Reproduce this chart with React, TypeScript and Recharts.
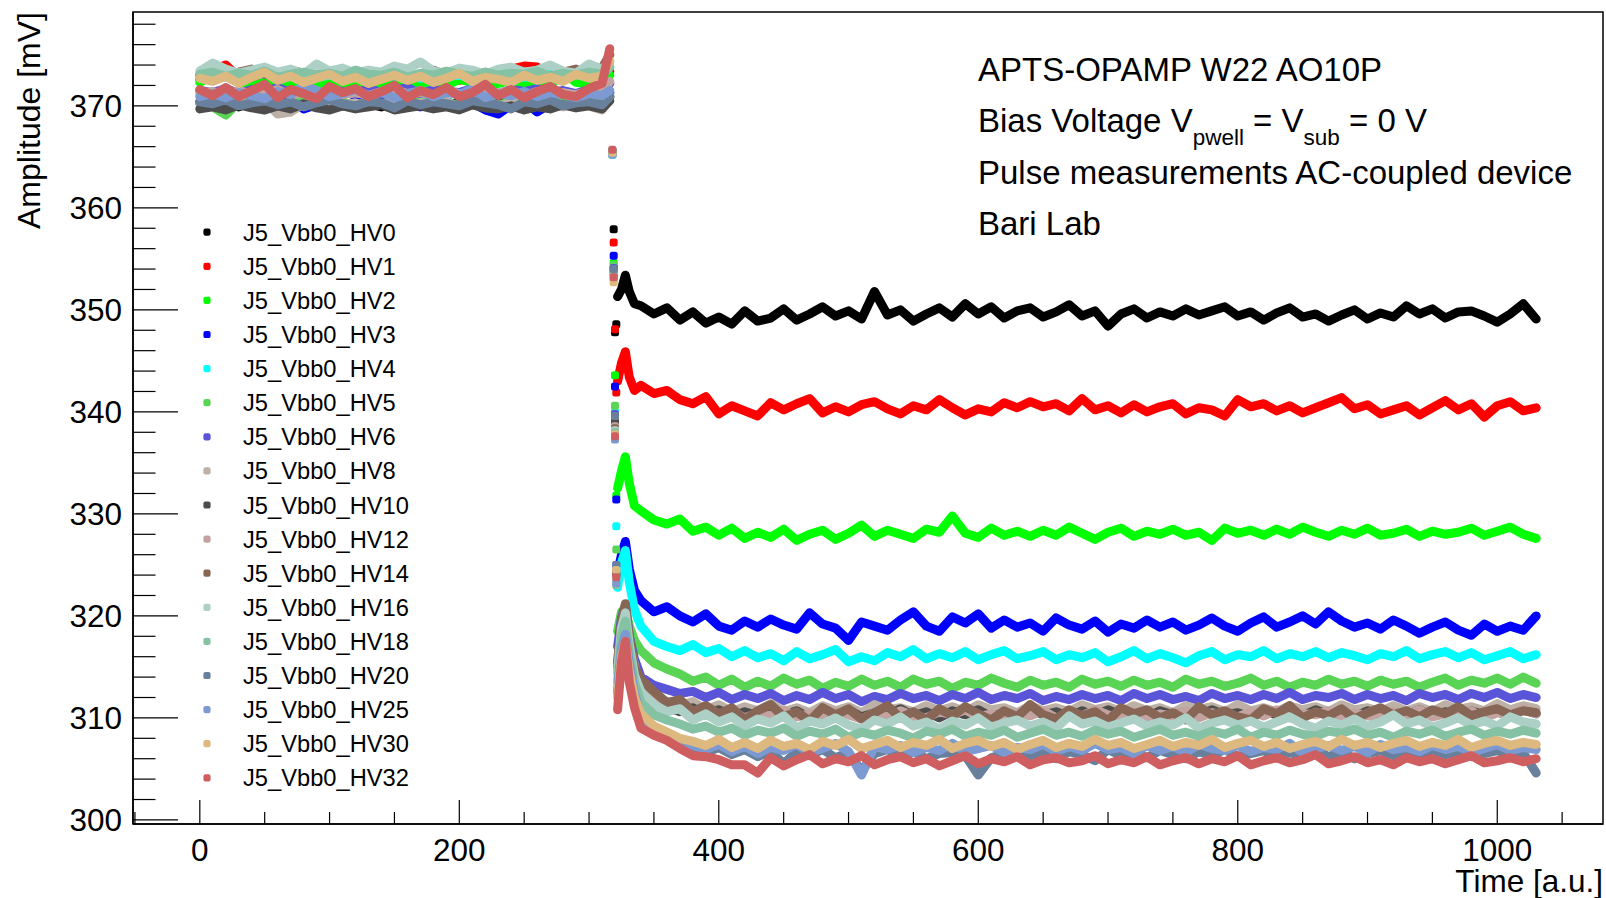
import React from 'react';
import { ComposedChart, Line, XAxis, YAxis, ReferenceArea } from 'recharts';

const FONT = '"Liberation Sans", Arial, Helvetica, sans-serif';

// ---- time grid (a.u.) ----
const TIME_PRE = [0, 10, 20, 30, 40, 50, 60, 70, 80, 90, 100, 110, 120, 130, 140, 150, 160, 170, 180, 190, 200, 210, 220, 230, 240, 250, 260, 270, 280, 290, 300, 310, 316];
const TIME_DIP = [318, 319, 320, 321];
const TIME_TR = [322, 325, 328, 331, 335];
const TIME_POST = [340, 350, 360, 370, 380, 390, 400, 410, 420, 430, 440, 450, 460, 470, 480, 490, 500, 510, 520, 530, 540, 550, 560, 570, 580, 590, 600, 610, 620, 630, 640, 650, 660, 670, 680, 690, 700, 710, 720, 730, 740, 750, 760, 770, 780, 790, 800, 810, 820, 830, 840, 850, 860, 870, 880, 890, 900, 910, 920, 930, 940, 950, 960, 970, 980, 990, 1000, 1010, 1020, 1030];

const X_TICKS = [-50, 0, 50, 100, 150, 200, 250, 300, 350, 400, 450, 500, 550, 600, 650, 700, 750, 800, 850, 900, 950, 1000, 1050];
const Y_TICKS = [300, 302, 304, 306, 308, 310, 312, 314, 316, 318, 320, 322, 324, 326, 328, 330, 332, 334, 336, 338, 340, 342, 344, 346, 348, 350, 352, 354, 356, 358, 360, 362, 364, 366, 368, 370, 372, 374, 376, 378];

// ---- HV0 ----
const PRE_HV0 = [370.3, 370.0, 370.5, 369.9, 370.4, 370.2, 370.6, 369.8, 370.3, 370.1,
  370.5, 370.0, 370.4, 370.2, 369.9, 370.5, 370.1, 370.3, 370.6, 370.0,
  370.4, 370.2, 369.8, 370.3, 370.5, 370.1, 370.4, 369.9, 370.3, 370.6,
  370.2, 370.4, 370.9];
const DIP_HV0 = [365.6, 357.9, 347.8, 348.6];
const TR_HV0 = [351.3, 352.0, 353.4, 351.8, 350.6];
const POST_HV0 = [350.4, 349.6, 350.2, 349.0, 349.8, 348.7, 349.3, 348.6, 349.9, 348.9,
  349.2, 350.1, 349.0, 349.6, 350.3, 349.4, 349.9, 349.1, 351.8, 349.5,
  350.0, 348.9, 349.6, 350.2, 349.3, 350.6, 349.6, 350.3, 349.2, 349.9,
  350.2, 349.3, 349.8, 350.5, 349.4, 349.9, 348.4, 349.6, 350.1, 349.2,
  349.8, 349.4, 350.1, 349.5, 349.9, 350.3, 349.4, 349.8, 349.0, 349.7,
  350.2, 349.3, 349.6, 348.9, 349.5, 350.0, 349.1, 349.7, 349.3, 350.4,
  349.6, 350.1, 349.2, 349.8, 349.9, 349.4, 348.8, 349.6, 350.6, 349.1];

// ---- HV1 ----
const PRE_HV1 = [372.6, 373.5, 374.0, 372.8, 372.3, 372.7, 372.5, 372.2, 372.8, 372.4,
  372.6, 372.3, 372.9, 372.5, 372.2, 372.7, 372.4, 372.6, 372.3, 372.8,
  372.5, 372.7, 372.4, 372.9, 373.6, 373.9, 373.8, 372.4, 372.8, 372.6,
  372.5, 372.7, 373.4];
const DIP_HV1 = [365.4, 356.6, 348.1, 341.9];
const TR_HV1 = [343.0, 344.8, 345.9, 343.4, 342.1];
const POST_HV1 = [342.6, 341.8, 342.1, 341.2, 340.8, 341.5, 339.8, 340.6, 340.1, 339.6,
  340.9, 340.2, 340.8, 341.3, 339.9, 340.5, 340.0, 340.7, 341.0, 340.3,
  339.8, 340.6, 340.2, 341.2, 340.4, 339.7, 340.3, 340.0, 340.9, 340.4,
  341.0, 340.5, 340.8, 340.1, 341.3, 340.2, 340.6, 339.9, 340.7, 340.0,
  340.5, 340.8, 339.8, 340.4, 340.2, 339.6, 341.2, 340.5, 340.8, 340.1,
  340.6, 339.9, 340.4, 340.9, 341.4, 340.3, 340.7, 339.8, 340.2, 340.6,
  339.7, 340.4, 341.1, 340.2, 340.8, 339.5, 340.6, 341.0, 340.1, 340.4];

// ---- HV2 ----
const PRE_HV2 = [372.3, 373.0, 373.3, 372.4, 371.9, 372.3, 372.0, 372.5, 372.2, 371.8,
  372.4, 372.1, 372.6, 372.0, 372.3, 371.9, 372.5, 372.2, 372.4, 372.0,
  372.6, 372.3, 371.9, 372.2, 372.5, 372.1, 372.4, 372.0, 373.3, 372.3,
  372.1, 372.4, 373.0];
const DIP_HV2 = [365.6, 354.6, 343.6, 331.8];
const TR_HV2 = [332.5, 334.2, 335.6, 333.0, 330.8];
const POST_HV2 = [330.3, 329.4, 329.0, 329.5, 328.3, 328.7, 327.9, 328.6, 327.6, 328.2,
  327.7, 328.5, 327.4, 328.0, 328.4, 327.5, 328.1, 328.9, 327.8, 328.4,
  328.0, 327.6, 328.5, 328.2, 329.8, 328.1, 327.7, 328.6, 327.9, 328.3,
  327.8, 328.4, 327.9, 328.7, 328.1, 327.5, 328.2, 328.6, 327.8, 328.3,
  328.0, 328.5, 327.9, 328.2, 327.4, 328.6, 328.1, 328.4, 327.9, 328.5,
  328.0, 328.7, 328.2, 327.8, 328.4, 328.0, 328.6, 327.9, 328.1, 328.5,
  327.8, 328.3, 328.0, 328.2, 328.6, 327.9, 328.3, 328.7, 328.0, 327.6];

// ---- HV3 ----
const PRE_HV3 = [370.4, 370.1, 369.6, 370.3, 370.0, 370.5, 370.2, 370.4, 369.7, 370.1,
  370.3, 370.0, 370.4, 370.2, 370.5, 370.1, 370.3, 369.9, 370.2, 370.4,
  370.0, 370.3, 369.6, 369.2, 370.1, 370.4, 369.4, 370.2, 370.3, 370.0,
  370.5, 370.6, 371.3];
const DIP_HV3 = [365.3, 355.3, 342.5, 331.4];
const TR_HV3 = [324.2, 326.0, 327.3, 324.6, 322.5];
const POST_HV3 = [321.5, 320.4, 320.9, 320.0, 319.4, 320.2, 319.0, 318.6, 319.5, 318.9,
  319.7, 319.1, 318.7, 320.3, 319.2, 318.8, 317.6, 319.4, 319.0, 318.6,
  319.6, 320.4, 319.0, 318.5, 319.9, 319.3, 320.2, 318.8, 319.6, 318.9,
  319.3, 318.5, 319.8, 319.1, 318.7, 319.5, 318.4, 319.2, 318.8, 319.6,
  318.9, 319.4, 318.6, 319.1, 319.8, 319.0, 318.5, 319.3, 319.9, 318.9,
  319.4, 320.0, 319.2, 320.4, 319.5, 318.9, 319.3, 318.7, 319.6, 319.0,
  318.3, 318.9, 319.4, 318.6, 318.1, 319.2, 318.5, 319.0, 318.6, 320.0];

// ---- HV4 ----
const PRE_HV4 = [373.0, 373.2, 372.8, 373.1, 372.9, 373.2, 372.7, 373.0, 373.1, 372.8,
  373.0, 372.9, 373.2, 372.8, 373.0, 372.9, 373.1, 372.7, 373.3, 372.9,
  373.0, 372.8, 373.2, 372.9, 373.1, 372.8, 373.0, 373.2, 372.9, 373.1,
  372.8, 373.0, 373.8];
const DIP_HV4 = [365.2, 354.0, 340.0, 328.8];
const TR_HV4 = [322.8, 325.2, 326.4, 323.3, 320.6];
const POST_HV4 = [319.0, 317.5, 317.0, 316.6, 317.2, 316.4, 316.8, 316.0, 316.6, 315.9,
  316.3, 315.6, 316.5, 315.8, 316.2, 316.7, 315.5, 316.0, 315.6, 316.4,
  316.0, 316.7, 315.8, 316.3, 315.9, 316.5, 315.7, 316.2, 316.6, 315.8,
  316.1, 316.5, 315.7, 316.2, 315.9, 316.4, 315.5, 316.0, 316.6, 315.8,
  316.3, 315.9, 315.4, 316.1, 316.5, 315.7, 316.2, 316.0, 316.6, 315.8,
  316.3, 316.0, 316.5, 315.9, 316.4, 316.1, 315.7, 316.3, 316.0, 316.6,
  315.8, 316.2, 316.5, 315.9, 316.4, 315.7, 316.1, 316.5, 315.8, 316.2];

// ---- HV5 ----
const PRE_HV5 = [370.3, 369.9, 369.1, 370.4, 370.1, 370.5, 370.2, 370.0, 370.6, 370.3,
  370.1, 370.4, 370.0, 370.5, 370.2, 369.8, 370.3, 370.6, 370.1, 370.4,
  370.0, 370.3, 370.5, 370.1, 370.4, 370.2, 370.0, 370.5, 370.3, 370.1,
  370.4, 370.2, 371.0];
const DIP_HV5 = [365.5, 354.4, 340.6, 326.5];
const TR_HV5 = [318.5, 320.4, 320.8, 319.0, 317.6];
const POST_HV5 = [316.6, 315.4, 314.8, 314.3, 313.6, 314.0, 313.2, 313.8, 313.0, 313.6,
  313.1, 313.9, 313.3, 313.7, 312.9, 313.5, 313.1, 313.8, 313.2, 313.6,
  313.0, 313.8, 313.3, 313.6, 312.9, 313.5, 313.2, 313.9, 313.4, 313.0,
  313.7, 313.2, 313.5, 313.0, 313.8, 313.3, 313.6, 313.1, 313.7, 313.2,
  313.5, 313.0, 313.8, 313.3, 313.6, 313.1, 313.4, 313.9, 313.2, 313.6,
  313.0, 313.5, 313.2, 313.8, 313.3, 313.6, 313.1, 313.7, 313.3, 313.6,
  313.0, 313.5, 313.9, 313.2, 313.7, 313.4, 313.9, 313.3, 314.0, 313.4];

// ---- HV6 ----
const PRE_HV6 = [371.5, 371.3, 371.7, 371.2, 371.6, 371.4, 371.8, 371.3, 371.5, 371.1,
  371.6, 371.4, 371.2, 371.7, 371.3, 371.5, 371.8, 371.2, 371.6, 371.4,
  371.3, 371.7, 371.5, 371.2, 371.6, 371.4, 371.7, 371.3, 371.5, 371.2,
  371.6, 371.4, 372.2];
const DIP_HV6 = [365.5, 354.1, 339.8, 325.0];
const TR_HV6 = [317.0, 319.8, 321.0, 318.0, 315.8];
const POST_HV6 = [314.0, 313.2, 312.8, 312.4, 312.6, 312.0, 312.5, 311.8, 312.3, 311.9,
  312.4, 311.7, 312.2, 311.8, 312.5, 311.9, 312.3, 311.6, 312.1, 311.8,
  312.4, 311.9, 312.2, 311.7, 312.3, 311.9, 312.5, 311.8, 312.2, 311.9,
  312.4, 311.7, 312.1, 311.8, 312.3, 311.9, 312.2, 311.7, 312.4, 311.9,
  312.3, 311.8, 312.1, 311.7, 312.4, 311.9, 312.2, 311.8, 312.3, 311.9,
  312.5, 311.8, 312.2, 312.0, 312.4, 311.8, 312.3, 311.9, 312.2, 311.7,
  312.4, 312.0, 312.3, 311.8, 312.4, 312.0, 312.5, 311.9, 312.3, 312.0];

// ---- HV8 ----
const PRE_HV8 = [370.2, 370.4, 369.9, 370.3, 370.1, 370.5, 369.2, 369.4, 370.2, 370.0,
  370.4, 370.1, 370.3, 369.9, 370.2, 370.5, 370.0, 370.3, 370.1, 370.4,
  369.8, 370.2, 370.5, 370.0, 370.3, 370.1, 370.4, 370.2, 369.9, 370.3,
  370.0, 369.6, 370.8];
const DIP_HV8 = [365.3, 353.8, 339.3, 324.5];
const TR_HV8 = [315.5, 318.8, 320.0, 317.5, 315.2];
const POST_HV8 = [312.8, 312.0, 311.5, 311.2, 311.6, 310.8, 311.3, 310.6, 311.1, 310.7,
  311.4, 310.6, 311.0, 310.5, 311.2, 310.7, 311.1, 310.5, 311.3, 310.8,
  311.0, 310.6, 311.2, 310.7, 311.1, 310.6, 311.3, 310.8, 311.0, 310.5,
  311.2, 310.7, 311.0, 310.6, 311.3, 310.8, 311.1, 310.6, 311.2, 310.7,
  311.0, 310.5, 311.2, 310.8, 311.1, 310.6, 311.3, 310.7, 311.0, 310.6,
  311.2, 310.8, 311.1, 310.6, 311.3, 310.8, 311.0, 310.6, 311.2, 310.7,
  311.1, 310.6, 311.3, 310.8, 311.1, 310.7, 311.4, 310.8, 311.2, 310.9];

// ---- HV10 ----
const PRE_HV10 = [369.7, 369.9, 369.6, 370.1, 369.8, 369.6, 370.0, 369.7, 370.2, 369.8,
  369.6, 370.0, 369.7, 369.9, 370.1, 369.6, 369.8, 370.0, 369.7, 369.9,
  369.6, 370.1, 369.8, 369.7, 370.0, 369.6, 369.9, 369.7, 370.1, 369.8,
  370.0, 369.7, 370.5];
const DIP_HV10 = [365.4, 354.0, 339.0, 324.0];
const TR_HV10 = [315.0, 318.2, 319.6, 317.0, 314.6];
const POST_HV10 = [312.3, 311.5, 311.0, 310.6, 311.0, 310.3, 310.8, 310.1, 310.6, 310.2,
  310.9, 310.3, 310.7, 310.0, 310.6, 310.2, 310.8, 310.1, 310.5, 310.3,
  310.9, 310.2, 310.6, 310.0, 310.7, 310.3, 310.8, 310.1, 310.5, 310.2,
  310.9, 310.3, 310.6, 310.1, 310.7, 310.2, 310.8, 310.3, 310.5, 310.0,
  310.7, 310.3, 310.6, 310.2, 310.8, 310.3, 310.5, 310.1, 310.7, 310.3,
  310.6, 310.2, 310.8, 310.3, 310.6, 310.1, 310.7, 310.2, 310.5, 310.3,
  310.8, 310.2, 310.6, 310.1, 310.7, 310.3, 310.6, 310.2, 310.8, 310.4];

// ---- HV12 ----
const PRE_HV12 = [371.2, 371.4, 371.0, 371.5, 371.1, 371.3, 371.6, 371.0, 371.4, 371.2,
  371.5, 371.1, 371.3, 371.0, 371.4, 371.6, 371.2, 371.3, 371.0, 371.5,
  371.2, 371.4, 371.1, 371.3, 371.5, 371.0, 371.4, 371.2, 371.3, 371.1,
  371.5, 371.3, 372.4];
const DIP_HV12 = [365.3, 353.6, 338.6, 323.8];
const TR_HV12 = [314.5, 318.5, 320.0, 317.0, 314.5];
const POST_HV12 = [313.2, 312.1, 311.6, 311.0, 310.6, 310.9, 310.3, 310.7, 310.0, 310.5,
  310.2, 310.8, 310.1, 310.4, 310.0, 310.6, 310.3, 309.9, 310.5, 310.1,
  310.7, 310.2, 310.0, 310.6, 310.3, 310.8, 310.1, 310.4, 309.9, 310.5,
  310.2, 310.7, 310.0, 310.4, 310.2, 310.8, 310.3, 310.1, 310.6, 309.9,
  310.4, 310.2, 310.7, 310.0, 310.5, 310.3, 310.1, 310.6, 310.2, 310.8,
  310.0, 310.4, 310.3, 310.7, 310.1, 310.5, 310.2, 310.0, 310.6, 310.3,
  310.8, 310.1, 310.4, 310.2, 310.7, 310.0, 310.5, 310.3, 310.9, 310.4];

// ---- HV14 ----
const PRE_HV14 = [373.0, 373.2, 372.9, 373.3, 373.6, 373.1, 372.9, 373.5, 373.2, 373.0,
  373.3, 372.9, 373.1, 373.4, 373.0, 373.2, 372.8, 373.1, 373.5, 373.0,
  373.2, 372.9, 373.3, 373.1, 373.0, 373.4, 373.2, 372.9, 373.3, 373.6,
  373.1, 373.7, 375.0];
const DIP_HV14 = [365.5, 353.5, 338.4, 324.2];
const TR_HV14 = [315.5, 319.5, 321.2, 318.0, 315.0];
const POST_HV14 = [313.8, 312.6, 311.5, 311.8, 310.6, 311.2, 310.4, 311.0, 309.8, 310.7,
  311.3, 310.1, 310.6, 309.7, 311.0, 310.3, 310.9, 309.9, 310.5, 311.2,
  310.0, 310.6, 309.8, 310.9, 310.2, 311.1, 310.4, 309.8, 310.7, 310.1,
  311.3, 310.3, 309.9, 310.8, 310.2, 310.6, 309.7, 311.0, 310.4, 310.8,
  310.0, 310.5, 309.8, 311.1, 310.3, 310.7, 310.1, 309.8, 310.9, 310.4,
  311.2, 310.0, 310.6, 310.2, 310.9, 309.9, 310.5, 311.0, 310.3, 310.7,
  310.1, 310.8, 310.4, 311.1, 310.2, 310.6, 310.9, 310.3, 310.7, 310.5];

// ---- HV16 ----
const PRE_HV16 = [373.4, 374.2, 373.6, 373.2, 373.5, 373.8, 373.3, 373.6, 373.1, 374.1,
  373.4, 373.7, 373.2, 373.5, 373.3, 373.9, 373.6, 374.3, 373.4, 373.2,
  373.7, 373.5, 373.1, 373.6, 373.8, 373.3, 373.5, 374.0, 373.4, 373.2,
  374.1, 373.6, 374.3];
const DIP_HV16 = [365.6, 353.4, 338.2, 323.5];
const TR_HV16 = [314.5, 318.8, 320.3, 317.2, 314.2];
const POST_HV16 = [312.5, 311.3, 310.6, 310.9, 309.8, 310.4, 309.6, 310.1, 309.2, 309.9,
  309.5, 310.2, 309.0, 309.7, 309.4, 310.0, 309.3, 308.9, 309.8, 309.4,
  310.1, 309.2, 309.6, 308.9, 309.7, 309.3, 310.0, 309.1, 309.5, 309.8,
  309.2, 309.6, 309.0, 310.2, 309.4, 309.7, 309.1, 309.5, 309.9, 309.2,
  309.6, 309.3, 310.0, 309.0, 309.5, 309.8, 309.3, 309.7, 309.1, 309.6,
  310.1, 309.4, 309.0, 309.7, 309.3, 309.9, 309.2, 309.6, 310.3, 309.4,
  309.8, 309.1, 309.5, 310.0, 309.3, 309.7, 309.2, 310.1, 309.6, 309.4];

// ---- HV18 ----
const PRE_HV18 = [373.1, 373.3, 372.9, 373.2, 373.0, 373.4, 372.8, 373.1, 373.3, 373.0,
  373.2, 372.9, 373.5, 373.1, 373.0, 373.3, 372.8, 373.2, 373.0, 373.4,
  373.1, 372.9, 373.3, 373.0, 373.2, 373.1, 373.4, 372.9, 373.2, 373.0,
  373.3, 373.1, 373.8];
const DIP_HV18 = [365.4, 353.7, 338.0, 323.0];
const TR_HV18 = [313.5, 318.0, 319.5, 316.5, 313.5];
const POST_HV18 = [311.5, 310.3, 309.8, 309.4, 308.9, 309.2, 308.6, 309.0, 308.3, 308.8,
  308.5, 309.0, 308.2, 308.7, 308.4, 308.9, 308.1, 308.6, 308.3, 308.8,
  308.5, 308.0, 308.7, 308.4, 308.9, 308.2, 308.6, 308.3, 308.8, 308.1,
  308.5, 308.9, 308.3, 308.6, 308.2, 308.8, 308.4, 308.7, 308.1, 308.5,
  308.9, 308.3, 308.6, 308.2, 308.7, 308.4, 308.9, 308.1, 308.6, 308.3,
  308.8, 308.4, 308.2, 308.7, 308.5, 308.9, 308.3, 308.6, 308.1, 308.7,
  308.4, 308.8, 308.2, 308.6, 308.9, 308.3, 308.7, 308.4, 308.8, 308.5];

// ---- HV20 ----
const PRE_HV20 = [370.4, 370.2, 370.6, 370.0, 370.3, 370.5, 370.1, 370.4, 369.9, 370.3,
  370.6, 370.2, 370.0, 370.4, 370.3, 369.8, 370.5, 370.1, 370.4, 370.2,
  370.0, 370.5, 370.3, 370.1, 369.7, 370.4, 370.2, 370.6, 370.0, 370.3,
  370.4, 370.1, 370.9];
const DIP_HV20 = [365.5, 354.0, 339.6, 325.0];
const TR_HV20 = [312.5, 316.5, 318.0, 315.0, 312.0];
const POST_HV20 = [310.0, 308.8, 308.0, 307.4, 307.0, 306.6, 307.1, 306.4, 306.9, 306.2,
  306.8, 305.5, 306.7, 306.3, 306.9, 306.1, 306.6, 304.8, 306.5, 306.9,
  306.2, 306.7, 306.0, 306.5, 306.6, 306.3, 304.4, 306.1, 306.5, 306.8,
  306.2, 306.6, 306.0, 306.7, 306.4, 305.8, 306.9, 306.3, 306.6, 306.1,
  306.8, 306.4, 306.0, 306.7, 306.3, 306.9, 306.2, 306.5, 306.8, 306.1,
  306.6, 306.3, 306.9, 306.2, 306.7, 306.0, 306.5, 306.8, 306.3, 306.6,
  306.1, 306.9, 306.4, 306.7, 306.2, 306.5, 306.8, 306.3, 306.6, 304.6];

// ---- HV25 ----
const PRE_HV25 = [370.9, 371.2, 370.8, 371.3, 371.0, 370.7, 371.4, 371.1, 372.0, 371.5,
  370.9, 371.2, 371.6, 371.0, 371.3, 370.8, 371.2, 371.5, 370.9, 371.3,
  371.1, 371.7, 370.8, 371.2, 371.0, 371.4, 370.9, 371.3, 371.1, 370.8,
  371.2, 371.0, 371.5];
const DIP_HV25 = [365.2, 353.0, 337.3, 323.2];
const TR_HV25 = [312.5, 316.8, 318.2, 315.5, 312.5];
const POST_HV25 = [310.2, 309.0, 308.3, 307.6, 307.3, 306.9, 307.4, 306.7, 307.2, 306.5,
  307.1, 306.8, 307.4, 306.6, 307.0, 307.5, 306.7, 304.4, 307.2, 306.9,
  307.3, 306.6, 307.1, 306.8, 307.5, 306.7, 307.0, 307.3, 306.6, 307.1,
  306.9, 307.4, 306.7, 307.2, 306.8, 307.5, 306.9, 307.1, 306.5, 307.3,
  306.8, 307.2, 306.6, 307.4, 307.0, 306.8, 307.3, 306.7, 307.1, 306.9,
  307.5, 306.6, 307.0, 307.3, 306.8, 307.2, 306.6, 307.4, 306.9, 307.1,
  306.7, 307.3, 306.9, 307.2, 306.6, 307.0, 307.4, 306.8, 307.1, 306.9];

// ---- HV30 ----
const PRE_HV30 = [372.7, 372.4, 372.9, 372.2, 372.8, 373.3, 372.5, 372.9, 372.3, 372.7,
  373.1, 372.4, 372.8, 372.2, 372.6, 373.0, 372.5, 372.9, 372.3, 372.7,
  373.2, 372.4, 372.8, 372.6, 372.3, 373.0, 372.5, 372.8, 372.4, 373.1,
  372.7, 372.9, 374.4];
const DIP_HV30 = [365.4, 352.7, 337.8, 324.5];
const TR_HV30 = [312.0, 316.0, 317.5, 314.5, 312.0];
const POST_HV30 = [310.4, 309.2, 308.6, 308.0, 307.7, 307.3, 307.9, 307.1, 307.6, 307.0,
  307.8, 307.2, 307.5, 306.9, 307.7, 307.3, 307.9, 307.0, 307.4, 307.8,
  307.1, 307.6, 307.3, 307.9, 307.0, 307.5, 307.8, 307.2, 307.6, 306.9,
  307.4, 307.8, 307.1, 307.5, 307.2, 307.9, 307.3, 307.6, 307.0, 307.4,
  307.8, 307.2, 307.6, 307.3, 307.9, 307.1, 307.5, 307.8, 307.2, 307.6,
  307.0, 307.4, 307.7, 307.2, 307.9, 307.3, 307.6, 307.1, 307.5, 307.8,
  307.2, 307.6, 307.3, 307.9, 307.1, 307.5, 307.8, 307.3, 307.6, 307.4];

// ---- HV32 ----
const PRE_HV32 = [371.6, 371.0, 371.8, 370.9, 371.5, 372.1, 370.8, 371.6, 371.2, 370.7,
  371.9, 371.3, 371.7, 370.9, 371.4, 372.0, 370.8, 371.5, 371.1, 371.8,
  370.9, 371.3, 372.1, 371.0, 371.6, 370.8, 371.4, 371.9, 371.1, 370.9,
  371.7, 372.2, 375.6];
const DIP_HV32 = [365.7, 353.2, 337.6, 323.8];
const TR_HV32 = [310.8, 315.5, 317.5, 313.5, 311.0];
const POST_HV32 = [309.0, 308.3, 307.8, 307.0, 306.3, 306.2, 305.9, 305.4, 305.4, 304.6,
  306.1, 305.3, 305.9, 306.4, 305.5, 306.0, 305.7, 306.3, 305.4, 305.9,
  306.2, 305.6, 306.0, 305.3, 305.8, 306.3, 305.5, 306.0, 305.7, 306.2,
  305.4, 305.9, 306.1, 305.6, 305.8, 306.3, 305.5, 305.9, 305.6, 306.2,
  305.4, 305.8, 306.1, 305.5, 306.0, 305.7, 306.3, 305.4, 305.8, 306.1,
  305.6, 305.9, 306.4, 305.5, 305.8, 306.2, 305.6, 305.9, 305.4, 306.1,
  305.7, 306.0, 305.5, 305.9, 306.3, 305.6, 305.8, 306.1, 305.7, 306.0];

const SERIES = [
  { name: 'J5_Vbb0_HV0', color: '#000000', pre: PRE_HV0, dip: DIP_HV0, tr: TR_HV0, post: POST_HV0 },
  { name: 'J5_Vbb0_HV1', color: '#ff0000', pre: PRE_HV1, dip: DIP_HV1, tr: TR_HV1, post: POST_HV1 },
  { name: 'J5_Vbb0_HV2', color: '#00ff00', pre: PRE_HV2, dip: DIP_HV2, tr: TR_HV2, post: POST_HV2 },
  { name: 'J5_Vbb0_HV3', color: '#0000ff', pre: PRE_HV3, dip: DIP_HV3, tr: TR_HV3, post: POST_HV3 },
  { name: 'J5_Vbb0_HV4', color: '#00ffff', pre: PRE_HV4, dip: DIP_HV4, tr: TR_HV4, post: POST_HV4 },
  { name: 'J5_Vbb0_HV5', color: '#59d454', pre: PRE_HV5, dip: DIP_HV5, tr: TR_HV5, post: POST_HV5 },
  { name: 'J5_Vbb0_HV6', color: '#5954d8', pre: PRE_HV6, dip: DIP_HV6, tr: TR_HV6, post: POST_HV6 },
  { name: 'J5_Vbb0_HV8', color: '#bdb0a6', pre: PRE_HV8, dip: DIP_HV8, tr: TR_HV8, post: POST_HV8 },
  { name: 'J5_Vbb0_HV10', color: '#4d4d4d', pre: PRE_HV10, dip: DIP_HV10, tr: TR_HV10, post: POST_HV10 },
  { name: 'J5_Vbb0_HV12', color: '#c2a3a0', pre: PRE_HV12, dip: DIP_HV12, tr: TR_HV12, post: POST_HV12 },
  { name: 'J5_Vbb0_HV14', color: '#876656', pre: PRE_HV14, dip: DIP_HV14, tr: TR_HV14, post: POST_HV14 },
  { name: 'J5_Vbb0_HV16', color: '#acd0c6', pre: PRE_HV16, dip: DIP_HV16, tr: TR_HV16, post: POST_HV16 },
  { name: 'J5_Vbb0_HV18', color: '#85c2a3', pre: PRE_HV18, dip: DIP_HV18, tr: TR_HV18, post: POST_HV18 },
  { name: 'J5_Vbb0_HV20', color: '#68809b', pre: PRE_HV20, dip: DIP_HV20, tr: TR_HV20, post: POST_HV20 },
  { name: 'J5_Vbb0_HV25', color: '#7d99d1', pre: PRE_HV25, dip: DIP_HV25, tr: TR_HV25, post: POST_HV25 },
  { name: 'J5_Vbb0_HV30', color: '#ddb87f', pre: PRE_HV30, dip: DIP_HV30, tr: TR_HV30, post: POST_HV30 },
  { name: 'J5_Vbb0_HV32', color: '#cf5e61', pre: PRE_HV32, dip: DIP_HV32, tr: TR_HV32, post: POST_HV32 },
];

function buildRows() {
  const rows: any[] = [];
  const add = (times: number[], key: 'pre' | 'dip' | 'tr' | 'post') => {
    times.forEach((t, i) => {
      const r: any = { t };
      SERIES.forEach((s, k) => {
        const v = (s as any)[key][i];
        if (key === 'dip') {
          r['s' + k] = null;
          r['d' + k] = v === undefined ? null : v;
        } else {
          r['s' + k] = v === undefined ? null : v;
          r['d' + k] = null;
        }
      });
      rows.push(r);
    });
  };
  add(TIME_PRE, 'pre');
  add(TIME_DIP, 'dip');
  add(TIME_TR, 'tr');
  add(TIME_POST, 'post');
  return rows;
}
const ROWS = buildRows();

const YTick = (props: any) => {
  const { x, y, payload } = props;
  const v = payload.value;
  const major = Math.abs(v % 10) < 1e-6;
  return (
    <g>
      <line x1={x} x2={x + (major ? 45 : 22.5)} y1={y} y2={y} stroke="#000" strokeWidth={1.2} />
      {major && (
        <text x={x - 11} y={y} dy="0.36em" textAnchor="end" fontSize={31.5} fontFamily={FONT} fill="#000">
          {v}
        </text>
      )}
    </g>
  );
};

const XTick = (props: any) => {
  const { x, y, payload } = props;
  const v = payload.value;
  const major = Math.abs(v % 200) < 1e-6;
  return (
    <g>
      <line x1={x} x2={x} y1={y} y2={y - (major ? 24 : 12)} stroke="#000" strokeWidth={1.2} />
      {major && (
        <text x={x} y={y + 37} textAnchor="middle" fontSize={31.5} fontFamily={FONT} fill="#000">
          {v}
        </text>
      )}
    </g>
  );
};

const makeDot = (color: string) => (p: any) => {
  const k = 'dot-' + color + '-' + p.index;
  if (p.cy == null || p.cx == null || isNaN(p.cy) || p.value == null) return <g key={k} />;
  return <rect key={k} x={p.cx - 4} y={p.cy - 4} width={8} height={8} rx={2.5} fill={color} />;
};

const LEGEND_X_MARK = 207;
const LEGEND_X_TEXT = 243;
const LEGEND_Y0 = 240.7;
const LEGEND_DY = 34.1;

export default function App() {
  const lines = SERIES.flatMap((s, k) => [
    <Line
      key={'s' + k}
      type="linear"
      dataKey={'s' + k}
      stroke={s.color}
      strokeWidth={9}
      strokeLinejoin="round"
      strokeLinecap="round"
      dot={false}
      activeDot={false}
      connectNulls={false}
      isAnimationActive={false}
      legendType="none"
    />,
    <Line
      key={'d' + k}
      type="linear"
      dataKey={'d' + k}
      stroke="none"
      dot={makeDot(s.color)}
      activeDot={false}
      connectNulls={false}
      isAnimationActive={false}
      legendType="none"
    />,
  ]);

  return (
    <div style={{ position: 'absolute', left: 0, top: 0, width: 1606, height: 898, background: '#fff', overflow: 'hidden' }}>
      <ComposedChart width={1606} height={898} data={ROWS} margin={{ top: 12, right: 3, bottom: 0, left: 0 }}>
        <XAxis
          dataKey="t"
          type="number"
          domain={[-51.5, 1081.5]}
          allowDataOverflow
          ticks={X_TICKS}
          interval={0}
          height={74}
          tickSize={0}
          tickMargin={0}
          tickLine={false}
          axisLine={{ stroke: '#000', strokeWidth: 1.5 }}
          tick={(p: any) => <XTick {...p} />}
        />
        <YAxis
          type="number"
          domain={[299.6, 379.2]}
          allowDataOverflow
          ticks={Y_TICKS}
          interval={0}
          width={133}
          tickSize={0}
          tickMargin={0}
          tickLine={false}
          axisLine={{ stroke: '#000', strokeWidth: 1.5 }}
          tick={(p: any) => <YTick {...p} />}
        />
        <ReferenceArea x1={-51.5} x2={1081.5} y1={299.6} y2={379.2} fill="none" fillOpacity={0} stroke="#000" strokeWidth={1.5} ifOverflow="visible" />
        {lines}
      </ComposedChart>
      <svg width={1606} height={898} style={{ position: 'absolute', left: 0, top: 0, pointerEvents: 'none' }} fontFamily={FONT}>
        <text x={1603} y={892} textAnchor="end" fontSize={31.5} fill="#000">Time [a.u.]</text>
        <text x={40} y={12} textAnchor="end" fontSize={32} fill="#000" transform="rotate(-90 40 12)">Amplitude [mV]</text>
        <text x={978} y={81} fontSize={33} fill="#000">APTS-OPAMP W22 AO10P</text>
        <text x={978} y={132} fontSize={33} fill="#000">
          <tspan>Bias Voltage V</tspan>
          <tspan fontSize={22.5} dy={13}>pwell</tspan>
          <tspan dy={-13}> = V</tspan>
          <tspan fontSize={22.5} dy={13}>sub</tspan>
          <tspan dy={-13}> = 0 V</tspan>
        </text>
        <text x={978} y={183.5} fontSize={33} fill="#000">Pulse measurements AC-coupled device</text>
        <text x={978} y={234.5} fontSize={33} fill="#000">Bari Lab</text>
        {SERIES.map((s, i) => (
          <g key={s.name}>
            <rect x={LEGEND_X_MARK - 3.6} y={LEGEND_Y0 + i * LEGEND_DY - 8.5 - 3.6} width={7.2} height={7.2} rx={2.2} fill={s.color} />
            <text x={LEGEND_X_TEXT} y={LEGEND_Y0 + i * LEGEND_DY} fontSize={23.7} fill="#000">{s.name}</text>
          </g>
        ))}
      </svg>
    </div>
  );
}
